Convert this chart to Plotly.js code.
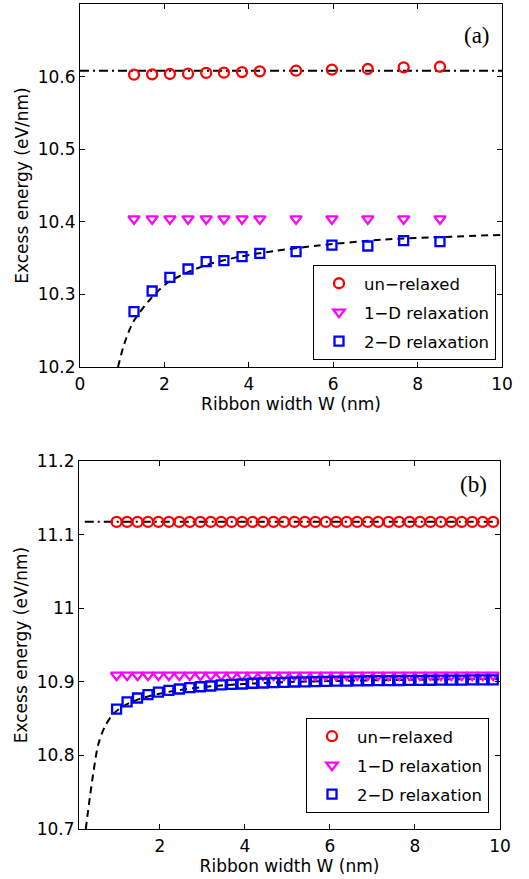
<!DOCTYPE html>
<html>
<head>
<meta charset="utf-8">
<script src="https://cdn.plot.ly/plotly-3.0.1.min.js"></script>
<style>
html,body{margin:0;padding:0;background:#fff;}
#chart{width:529px;height:879px;}
</style>
</head>
<body>
<div id="chart"></div>
<script>
// ---------- Panel (a) ----------
var widthA = [1.28,1.71,2.13,2.56,2.99,3.41,3.84,4.26,5.12,5.97,6.82,7.67,8.53];
var unrelaxedA = [10.6026,10.6032,10.6036,10.6040,10.6050,10.6054,10.6063,10.6073,10.6081,10.6095,10.6105,10.6128,10.6136];
var relax1DA = [10.404,10.404,10.404,10.404,10.404,10.404,10.404,10.404,10.404,10.404,10.404,10.404,10.404];
var relax2DA = [10.2762,10.3047,10.3235,10.3350,10.3451,10.3464,10.3519,10.3566,10.3588,10.3680,10.3667,10.3740,10.3726];
var flatLineAx = [0,10];
var flatLineAy = [10.608,10.608];
var fitAx = [0.90,1.05,1.26,1.66,2.05,2.53,3.08,3.79,4.58,5.60,7.20,8.80,10.0];
var fitAy = [10.200,10.232,10.262,10.293,10.315,10.330,10.342,10.352,10.3595,10.367,10.3755,10.3795,10.382];

// ---------- Panel (b) ----------
var widthB = [0.984,1.23,1.476,1.722,1.968,2.214,2.46,2.706,2.952,3.198,3.444,3.69,3.936,4.182,4.428,4.674,4.92,5.166,5.412,5.658,5.904,6.15,6.396,6.642,6.888,7.134,7.38,7.626,7.872,8.118,8.364,8.61,8.856,9.102,9.348,9.594,9.84];
var unrelaxedB = [11.1172,11.1172,11.1172,11.1172,11.1172,11.1172,11.1172,11.1172,11.1172,11.1172,11.1172,11.1172,11.1172,11.1172,11.1172,11.1172,11.1172,11.1172,11.1172,11.1172,11.1172,11.1172,11.1172,11.1172,11.1172,11.1172,11.1172,11.1172,11.1172,11.1172,11.1172,11.1172,11.1172,11.1172,11.1172,11.1172,11.1172];
var relax1DB = [10.909,10.909,10.909,10.909,10.909,10.909,10.909,10.909,10.909,10.909,10.909,10.909,10.909,10.909,10.909,10.909,10.909,10.909,10.909,10.909,10.909,10.909,10.909,10.909,10.909,10.909,10.909,10.909,10.909,10.909,10.909,10.909,10.909,10.909,10.909,10.909,10.909];
var relax2DB = [10.8630,10.8726,10.8780,10.8825,10.8861,10.8884,10.8902,10.8920,10.8933,10.8943,10.8957,10.8966,10.8970,10.8980,10.8984,10.8988,10.8993,10.8997,10.9000,10.9003,10.9006,10.9008,10.9010,10.9012,10.9014,10.9015,10.9017,10.9018,10.9019,10.9020,10.9021,10.9022,10.9023,10.9024,10.9025,10.9026,10.9027];
var flatLineBx = [0.235,10];
var flatLineBy = [11.1175,11.1175];
var fitBx = [0.259,0.353,0.431,0.549,0.706,0.902,1.176,1.569,2.353,3.29,4.31,5.02,6.0,7.0,8.0,9.0,10.0];
var fitBy = [10.700,10.742,10.774,10.814,10.839,10.856,10.868,10.8776,10.8879,10.8943,10.8980,10.8997,10.9010,10.9020,10.9028,10.9034,10.9040];

// ---------- Labels ----------
var seriesNames = ['un\u2212relaxed','1\u2212D relaxation','2\u2212D relaxation'];
var xTitle = 'Ribbon width W (nm)';
var yTitle = 'Excess energy (eV/nm)';
var xTicksA = [0,2,4,6,8,10];
var xTickTextA = ['0','2','4','6','8','10'];
var xTicksB = [2,4,6,8,10];
var xTickTextB = ['2','4','6','8','10'];
var yTicksA = [10.2,10.3,10.4,10.5,10.6,10.7];
var yTickTextA = ['10.2','10.3','10.4','10.5','10.6','10.7'];
var yTicksB = [10.7,10.8,10.9,11.0,11.1,11.2];
var yTickTextB = ['10.7','10.8','10.9','11','11.1','11.2'];

var FONT = 'DejaVu Sans, Arial, sans-serif';
var RED = '#ff0000', MAG = '#ff00ff', BLUE = '#0000ff';

function mk(symbol, color, size){
  return {symbol: symbol, size: size, color: color, line: {color: color, width: 2.3}};
}

var traces = [
  // panel a lines
  {x: flatLineAx, y: flatLineAy, mode: 'lines', line: {color: '#000', width: 2, dash: '9px,4px,2px,4px'}, showlegend: false, xaxis: 'x', yaxis: 'y', hoverinfo: 'skip'},
  {x: fitAx, y: fitAy, mode: 'lines', line: {color: '#000', width: 2, dash: '7px,5px', shape: 'spline', smoothing: 0.8}, showlegend: false, xaxis: 'x', yaxis: 'y', hoverinfo: 'skip'},
  {x: widthA, y: unrelaxedA, name: seriesNames[0], legendgroup: 'a1', mode: 'markers', marker: mk('circle-open', RED, 10), xaxis: 'x', yaxis: 'y', legend: 'legend'},
  {x: widthA, y: relax1DA, name: seriesNames[1], legendgroup: 'a2', mode: 'markers', marker: mk('triangle-down-open', MAG, 10), xaxis: 'x', yaxis: 'y', legend: 'legend'},
  {x: widthA, y: relax2DA, name: seriesNames[2], legendgroup: 'a3', mode: 'markers', marker: mk('square-open', BLUE, 9), xaxis: 'x', yaxis: 'y', legend: 'legend'},
  // panel b lines
  {x: flatLineBx, y: flatLineBy, mode: 'lines', line: {color: '#000', width: 2, dash: '9px,4px,2px,4px'}, showlegend: false, xaxis: 'x2', yaxis: 'y2', hoverinfo: 'skip'},
  {x: fitBx, y: fitBy, mode: 'lines', line: {color: '#000', width: 2, dash: '7px,5px', shape: 'spline', smoothing: 0.8}, showlegend: false, xaxis: 'x2', yaxis: 'y2', hoverinfo: 'skip'},
  {x: widthB, y: unrelaxedB, name: seriesNames[0], legendgroup: 'b1', mode: 'markers', marker: mk('circle-open', RED, 10), xaxis: 'x2', yaxis: 'y2', legend: 'legend2'},
  {x: widthB, y: relax1DB, name: seriesNames[1], legendgroup: 'b2', mode: 'markers', marker: mk('triangle-down-open', MAG, 10), xaxis: 'x2', yaxis: 'y2', legend: 'legend2'},
  {x: widthB, y: relax2DB, name: seriesNames[2], legendgroup: 'b3', mode: 'markers', marker: mk('square-open', BLUE, 9), xaxis: 'x2', yaxis: 'y2', legend: 'legend2'}
];

function xax(domain, range, tv, tt, anchor){
  return {domain: domain, range: range, anchor: anchor, tickvals: tv, ticktext: tt,
    showgrid: false, zeroline: false, showline: true, linecolor: '#000', linewidth: 1,
    mirror: 'ticks', ticks: 'inside', ticklen: 5, tickcolor: '#000', tickwidth: 1,
    ticklabelstandoff: 2,
    tickfont: {family: FONT, size: 17, color: '#000'},
    title: {text: xTitle, font: {family: FONT, size: 17, color: '#000'}, standoff: 0}};
}
function yax(domain, range, tv, tt, anchor){
  return {domain: domain, range: range, anchor: anchor, tickvals: tv, ticktext: tt,
    showgrid: false, zeroline: false, showline: true, linecolor: '#000', linewidth: 1,
    mirror: 'ticks', ticks: 'inside', ticklen: 5, tickcolor: '#000', tickwidth: 1,
    tickfont: {family: FONT, size: 17, color: '#000'},
    title: {text: yTitle, font: {family: FONT, size: 17, color: '#000'}, standoff: 4}};
}

var legendBase = {
  bgcolor: '#fff', bordercolor: '#000', borderwidth: 1,
  font: {family: FONT, size: 16.5, color: '#000'},
  xref: 'paper', yref: 'paper', xanchor: 'left', yanchor: 'top', itemwidth: 40,
  tracegroupgap: 4.5
};

var layout = {
  width: 529, height: 879,
  margin: {l: 0, r: 0, t: 0, b: 0},
  paper_bgcolor: '#fff', plot_bgcolor: '#fff',
  xaxis: xax([80/529, 502/529], [0, 10], xTicksA, xTickTextA, 'y'),
  yaxis: yax([1-367/879, 1-4/879], [10.2, 10.7], yTicksA, yTickTextA, 'x'),
  xaxis2: xax([79/529, 500/529], [0.1, 10], xTicksB, xTickTextB, 'y2'),
  yaxis2: yax([1-829/879, 1-461/879], [10.7, 11.2], yTicksB, yTickTextB, 'x2'),
  legend: Object.assign({}, legendBase, {x: 313/529, y: 1-265/879}),
  legend2: Object.assign({}, legendBase, {x: 306/529, y: 1-718/879}),
  annotations: [
    {text: '(a)', xref: 'paper', yref: 'paper', x: 477/529, y: 1-35/879, xanchor: 'center', yanchor: 'middle', showarrow: false, font: {family: 'Liberation Serif, Times New Roman, serif', size: 23, color: '#000'}},
    {text: '(b)', xref: 'paper', yref: 'paper', x: 473/529, y: 1-485/879, xanchor: 'center', yanchor: 'middle', showarrow: false, font: {family: 'Liberation Serif, Times New Roman, serif', size: 23, color: '#000'}}
  ],
  showlegend: true
};

Plotly.newPlot('chart', traces, layout, {displayModeBar: false, staticPlot: true});
</script>
</body>
</html>
